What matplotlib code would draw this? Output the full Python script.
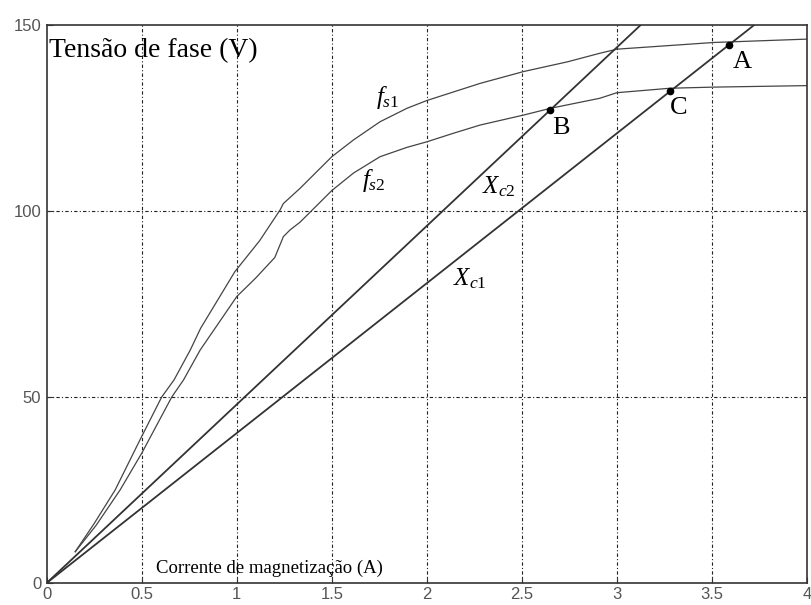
import numpy as np
import matplotlib.pyplot as plt

plt.rcParams["mathtext.fontset"] = "custom"
plt.rcParams["mathtext.it"] = "Liberation Serif:italic"
plt.rcParams["mathtext.rm"] = "Liberation Serif"

# Magnetisation curves (phase voltage vs magnetising current) for two speeds
fs1_i = [0.15, 0.25, 0.36, 0.49, 0.605, 0.67, 0.755, 0.81, 0.99, 1.12, 1.228,
         1.245, 1.333, 1.5, 1.614, 1.754, 1.895, 2.0, 2.14, 2.28, 2.51, 2.74,
         2.91, 3.0, 3.51, 3.89, 4.0]
fs1_v = [8.4, 16.0, 25.0, 38.4, 50.0, 54.6, 62.6, 68.5, 83.7, 92.0, 100.3,
         102.0, 106.1, 114.6, 119.1, 124.0, 127.6, 129.7, 132.0, 134.3, 137.5, 140.1,
         142.4, 143.5, 145.3, 146.0, 146.2]

fs2_i = [0.15, 0.26, 0.386, 0.5, 0.658, 0.72, 0.807, 1.0, 1.1, 1.2, 1.245, 1.28,
         1.333, 1.5, 1.614, 1.754, 1.895, 2.0, 2.14, 2.28, 2.51, 2.65, 2.91, 3.0,
         3.28, 3.51, 4.0]
fs2_v = [8.4, 15.5, 25.0, 34.9, 50.0, 54.6, 62.6, 77.0, 82.0, 87.5, 93.1, 94.9,
         97.0, 105.5, 110.2, 114.6, 117.1, 118.6, 120.9, 123.1, 125.8, 127.6, 130.3, 131.8,
         133.0, 133.3, 133.7]

# Capacitor reactance lines V = Xc * I
xc1 = 40.3
xc2 = 48.0
xc_i = [0.0, 4.0]

# Operating points (current) where the lines meet the curves
pt_names = ["A", "B", "C"]
pt_i = [3.59, 2.65, 3.28]
pt_x = [xc1, xc2, xc1]

fig = plt.figure(figsize=(8.11, 6.05), dpi=100)
ax = fig.add_axes([0.0576, 0.0364, 0.9375, 0.9223])

grid_ls = (0, (3, 2, 1, 2))
for gx in np.arange(0.5, 4.0, 0.5):
    ax.axvline(gx, color="#222222", lw=0.8, ls=grid_ls, zorder=0)
for gy in [50, 100]:
    ax.axhline(gy, color="#222222", lw=0.8, ls=grid_ls, zorder=0)

ax.plot(fs1_i, fs1_v, color="#444444", lw=0.9)
ax.plot(fs2_i, fs2_v, color="#444444", lw=0.9)
ax.plot(xc_i, [xc1 * i for i in xc_i], color="#333333", lw=1.3)
ax.plot(xc_i, [xc2 * i for i in xc_i], color="#333333", lw=1.3)

pt_v = [x * i for x, i in zip(pt_x, pt_i)]
ax.plot(pt_i, pt_v, "o", color="black", ms=4.5)

ax.set_xlim(0, 4)
ax.set_ylim(0, 150)
ax.set_xticks(np.arange(0, 4.01, 0.5))
ax.set_xticklabels(["0", "0.5", "1", "1.5", "2", "2.5", "3", "3.5", "4"])
ax.set_yticks([0, 50, 100, 150])
ax.tick_params(direction="in", length=4, labelsize=12, labelcolor="#555555",
               colors="#333333", pad=3)
ax.tick_params(axis="y", pad=4)
for lab in ax.get_xticklabels() + ax.get_yticklabels():
    lab.set_family(["Liberation Sans Narrow", "Liberation Sans", "DejaVu Sans"])
for s in ax.spines.values():
    s.set_color("#333333")
    s.set_linewidth(1.2)

serif = ["Liberation Serif", "DejaVu Serif"]
ax.text(0.01, 146.5, "Tensão de fase (V)", family=serif, fontsize=20,
        va="top", ha="left")
ax.text(1.17, 1.5, "Corrente de magnetização (A)", family=serif, fontsize=13.5,
        va="bottom", ha="center")

ax.text(1.73, 130.6, r"$\mathit{f_{s1}}$", fontsize=18, va="center", ha="left")
ax.text(1.66, 108.3, r"$\mathit{f_{s2}}$", fontsize=18, va="center", ha="left")
ax.text(2.29, 106.6, r"$\mathit{X_{c2}}$", fontsize=18, va="center", ha="left")
ax.text(2.14, 81.9, r"$\mathit{X_{c1}}$", fontsize=18, va="center", ha="left")

lbl_pos = [(3.61, 140.0), (2.66, 122.3), (3.28, 127.7)]
for name, (lx, ly) in zip(pt_names, lbl_pos):
    ax.text(lx, ly, name, family=serif, fontsize=19, va="center", ha="left")

fig.savefig("out.png", dpi=100)
